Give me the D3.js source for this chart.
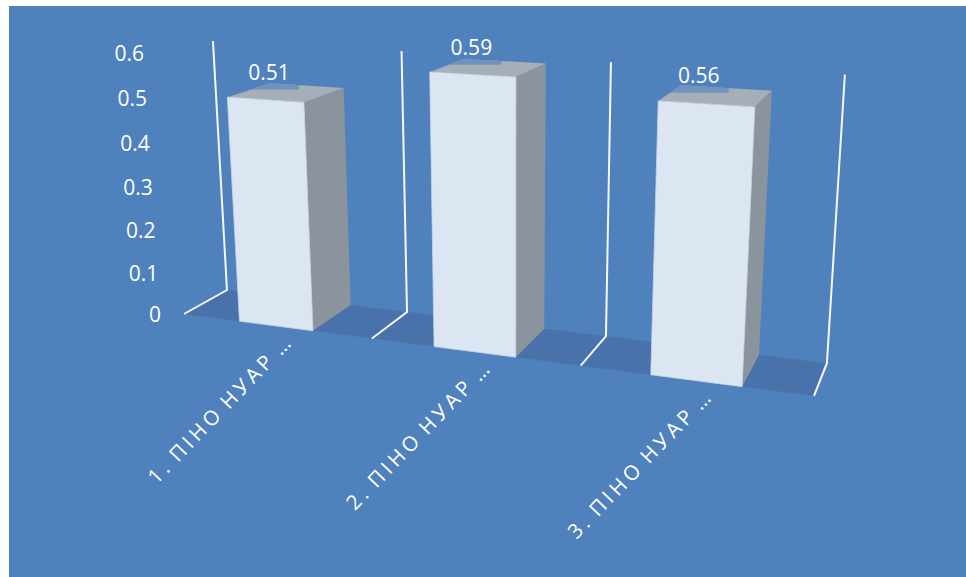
<!DOCTYPE html>
<html>
<head>
<meta charset="utf-8">
<script src="https://cdn.jsdelivr.net/npm/d3@7"></script>
<style>
html,body{margin:0;padding:0;background:#fff;overflow:hidden}
svg{display:block}
text{font-family:"Open Sans",sans-serif;fill:#fff}
</style>
</head>
<body>
<svg id="chart" width="966" height="577"></svg>
<script>
const categories = ["1. ПІНО НУАР …", "2. ПІНО НУАР …", "3. ПІНО НУАР …"];
const values = [0.51, 0.59, 0.56];
const yTicks = [0, 0.1, 0.2, 0.3, 0.4, 0.5, 0.6];
const yTickLabels = ["0", "0.1", "0.2", "0.3", "0.4", "0.5", "0.6"];

const W = 966, H = 577;
const svg = d3.select("#chart");

// Scales into world coordinates: u along the category axis, d depth, h value height
const uScale = d3.scaleBand().domain(categories).range([0, 3.01]).paddingInner(0.61).paddingOuter(0.305);
const uEdge = d3.scaleLinear().domain([0, 3]).range([0, 3]);
const hScale = d3.scaleLinear().domain([0, 0.6]).range([0, 0.6]);

// Perspective camera of the 3-D plot
const cam = {
  x: [184, 169.3, 55.06, -41.94],
  y: [314, 7.53, -8.53, -440.6],
  w: [1, -0.05, 0.0533, -0.0816]
};
function project(u, d, h) {
  const f = c => c[0] + c[1] * u + c[2] * d + c[3] * h;
  const w = f(cam.w);
  return [f(cam.x) / w, f(cam.y) / w];
}
const poly = pts => d3.line().curve(d3.curveLinearClosed)(pts);

// Background panel
svg.append("rect").attr("x", 9).attr("y", 6).attr("width", W - 9).attr("height", H - 6).attr("fill", "#4F81BD");

// Floor
svg.append("path")
  .attr("d", poly([project(0, 0, 0), project(0, 1, 0), project(3, 1, 0), project(3, 0, 0)]))
  .attr("fill", "#4872A9");

// Gridlines: one back-wall upright and floor tick per category boundary
const edges = d3.range(0, categories.length + 1);
const topVal = yTicks[yTicks.length - 1];
svg.append("g").selectAll("path").data(edges).join("path")
  .attr("d", e => d3.line()([project(uEdge(e), 1, hScale(topVal)), project(uEdge(e), 1, 0), project(uEdge(e), 0, 0)]))
  .attr("fill", "none").attr("stroke", "#F4F7FB").attr("stroke-width", 2);

// Bars
const bars = svg.append("g").selectAll("g").data(categories).join("g");
bars.each(function (c, i) {
  const g = d3.select(this);
  const u0 = uScale(c), u1 = u0 + uScale.bandwidth(), h = hScale(values[i]);
  const topFace = [project(u0, 0, h), project(u1, 0, h), project(u1, 1, h), project(u0, 1, h)];
  const side = [project(u1, 0, h), project(u1, 1, h), project(u1, 1, 0), project(u1, 0, 0)];
  const front = [project(u0, 0, h), project(u1, 0, h), project(u1, 0, 0), project(u0, 0, 0)];
  g.append("path").attr("d", poly(topFace)).attr("fill", "#A6AFB8");
  g.append("path").attr("d", poly(side)).attr("fill", "#8B949C");
  g.append("path").attr("d", poly(front)).attr("fill", "#DCE6F2").attr("stroke", "#C9D7E8").attr("stroke-width", 0.8);

  // Data label box showing over the top face
  const [cx, cy] = project(u0 + uScale.bandwidth() / 2, 0.5, h);
  const lx = cx - 17.5, ly = cy - 21;
  const clipId = "topclip" + i;
  g.append("clipPath").attr("id", clipId).append("path").attr("d", poly(topFace));
  g.append("rect").attr("x", lx - 31).attr("y", ly - 20).attr("width", 61).attr("height", 38)
    .attr("fill", "#7192BC").attr("clip-path", `url(#${clipId})`);
  g.append("text").attr("x", lx).attr("y", ly).attr("dy", "0.4em")
    .attr("text-anchor", "middle").style("font-size", "21px").text(d3.format(".2f")(values[i]));
});

// Value-axis labels
svg.append("g").selectAll("text").data(yTicks).join("text")
  .attr("x", v => project(0, 0, hScale(v))[0] - 23)
  .attr("y", v => project(0, 0, hScale(v))[1])
  .attr("dy", "0.4em").attr("text-anchor", "end").style("font-size", "21px")
  .text((v, i) => yTickLabels[i]);

// Category labels
svg.append("g").selectAll("text").data(categories).join("text")
  .attr("transform", c => {
    const [x, y] = project(uScale(c) + uScale.bandwidth() / 2, 0, 0);
    return `translate(${x + 19},${y + 16}) rotate(-46)`;
  })
  .attr("text-anchor", "end").style("font-size", "20.5px").style("letter-spacing", "4px").style("word-spacing", "-3.5px")
  .text(c => c);
</script>
</body>
</html>
